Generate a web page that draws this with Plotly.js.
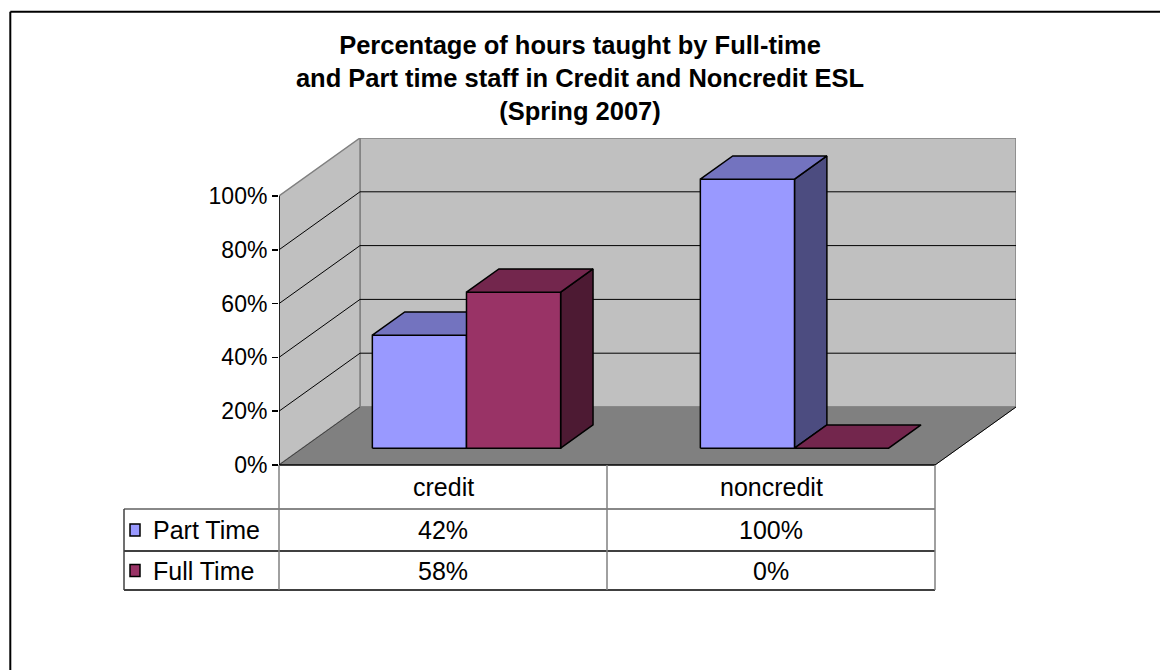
<!DOCTYPE html>
<html>
<head>
<meta charset="utf-8">
<script src="https://cdn.plot.ly/plotly-3.0.1.min.js"></script>
<style>html,body{margin:0;padding:0;background:#fff;}#chart{width:1160px;height:670px;}</style>
</head>
<body>
<div id="chart"></div>
<script>
// ---- data ----
const categories = ["credit", "noncredit"];
const seriesNames = ["Part Time", "Full Time"];
const partTime = [0.42, 1.00];
const fullTime = [0.58, 0.00];
const yTickVals = [0, 0.2, 0.4, 0.6, 0.8, 1.0];
const yTickText = ["0%", "20%", "40%", "60%", "80%", "100%"];

// ---- styling ----
const frontColors = ["#9999FF", "#993366"];
const topColors = ["#7373BF", "#73264D"];
const sideColors = ["#4C4C80", "#4D1A33"];
const FONT = "Arial, 'Liberation Sans', sans-serif";

const W = 1160, H = 670;
const mL = 279, mR = 144, mT = 138, mB = 205;
const plotW = W - mL - mR, plotH = H - mT - mB;
const DX = 81 / 328;      // depth offset in x units
const DY = 58 / 269;      // depth offset in y units
const xMin = -0.5, xMax = categories.length - 0.5 + DX;
const yMax = 1 + DY;
const PX = px => (px - mL) / plotW;
const PY = py => (H - mB - py) / plotH;

const bw = 0.287;                  // bar width
const gl = (1 - 2 * bw) / 2;       // left gap
const zf = 0.29, zb = 0.69;        // depth of bar front/back

const traces = [];
const allSeries = [partTime, fullTime];

function poly(xs, ys, fill) {
  traces.push({
    type: "scatter", mode: "lines", x: xs.concat([xs[0]]), y: ys.concat([ys[0]]),
    fill: "toself", fillcolor: fill, line: {color: "#000", width: 1.5},
    hoverinfo: "skip", showlegend: false
  });
}

categories.forEach((c, i) => {
  allSeries.forEach((vals, s) => {
    const v = vals[i];
    const x0 = i - 0.5 + gl + s * bw, x1 = x0 + bw;
    const oxf = zf * DX, oyf = zf * DY, oxb = zb * DX, oyb = zb * DY;
    if (v > 0) {
      poly([x1 + oxf, x1 + oxb, x1 + oxb, x1 + oxf], [oyf, oyb, v + oyb, v + oyf], sideColors[s]);
      poly([x0 + oxf, x1 + oxf, x1 + oxf, x0 + oxf], [oyf, oyf, v + oyf, v + oyf], frontColors[s]);
    }
    poly([x0 + oxf, x1 + oxf, x1 + oxb, x0 + oxb], [v + oyf, v + oyf, v + oyb, v + oyb], topColors[s]);
  });
});

const shapes = [];
// back wall
shapes.push({type: "path", xref: "x", yref: "y", layer: "below",
  path: `M${xMin + DX},${DY} L${xMax},${DY} L${xMax},${1 + DY} L${xMin + DX},${1 + DY} Z`,
  fillcolor: "#C0C0C0", line: {color: "#808080", width: 1.5}});
// side wall
shapes.push({type: "path", xref: "x", yref: "y", layer: "below",
  path: `M${xMin},0 L${xMin + DX},${DY} L${xMin + DX},${1 + DY} L${xMin},1 Z`,
  fillcolor: "#C0C0C0", line: {color: "#808080", width: 1.5}});
// floor
const xFR = categories.length - 0.5;
shapes.push({type: "path", xref: "x", yref: "y", layer: "below",
  path: `M${xMin},0 L${xFR},0 L${xMax},${DY} L${xMin + DX},${DY} Z`,
  fillcolor: "#808080", line: {color: "#808080", width: 1}});
// gridlines
yTickVals.forEach(v => {
  if (v > 0 && v < 1) {
    shapes.push({type: "line", xref: "x", yref: "y", layer: "below",
      x0: xMin, y0: v, x1: xMin + DX, y1: v + DY, line: {color: "#000", width: 1}});
    shapes.push({type: "line", xref: "x", yref: "y", layer: "below",
      x0: xMin + DX, y0: v + DY, x1: xMax, y1: v + DY, line: {color: "#000", width: 1}});
  }
});
// floor edges
shapes.push({type: "line", xref: "x", yref: "y", layer: "below",
  x0: xMin, y0: 0, x1: xMin + DX, y1: DY, line: {color: "#404040", width: 1}});
shapes.push({type: "line", xref: "x", yref: "y", layer: "below",
  x0: xFR, y0: 0, x1: xMax, y1: DY, line: {color: "#000", width: 1}});
// front axis line
shapes.push({type: "line", xref: "x", yref: "y", layer: "below",
  x0: xMin, y0: 0, x1: xMin, y1: 1, line: {color: "#000", width: 1.5}});

// ---- data table ----
const rowTop = 465, rowH1 = 509, rowH2 = 551, rowBot = 590, labelLeft = 124;
const tableRight = 279 + 328 * categories.length;
const hline = (x0, x1, py, col) => shapes.push({type: "line", xref: "paper", yref: "paper",
  x0: x0, x1: x1, y0: PY(py), y1: PY(py), line: {color: col, width: 1.5}});
const vline = (px, p0, p1, col) => shapes.push({type: "line", xref: "paper", yref: "paper",
  x0: PX(px), x1: PX(px), y0: PY(p0), y1: PY(p1), line: {color: col, width: 1.5}});
hline(0, PX(tableRight), rowTop, "#000");
hline(PX(labelLeft), PX(tableRight), rowH1, "#606060");
hline(PX(labelLeft), PX(tableRight), rowH2, "#000");
hline(PX(labelLeft), PX(tableRight), rowBot, "#000");
vline(labelLeft, rowH1, rowBot, "#404040");
for (let k = 0; k <= categories.length; k++) vline(279 + 328 * k, rowTop, rowBot, "#808080");

const TSIZE = 25;
const annotations = [];
const rowMid = [(rowH1 + rowH2) / 2, (rowH2 + rowBot) / 2];
categories.forEach((c, i) => {
  annotations.push({xref: "x", yref: "paper", x: i, y: PY((rowTop + rowH1) / 2),
    text: c, showarrow: false, font: {family: FONT, size: TSIZE, color: "#000"}, yanchor: "middle"});
});
allSeries.forEach((vals, s) => {
  shapes.push({type: "rect", xref: "paper", yref: "paper",
    x0: PX(130), x1: PX(140), y0: PY(rowMid[s] - 6), y1: PY(rowMid[s] + 6),
    fillcolor: frontColors[s], line: {color: "#000", width: 1.5}});
  annotations.push({xref: "paper", yref: "paper", x: PX(151), y: PY(rowMid[s]), xanchor: "left",
    text: seriesNames[s], showarrow: false, font: {family: FONT, size: TSIZE, color: "#000"}, yanchor: "middle"});
  vals.forEach((v, i) => {
    annotations.push({xref: "x", yref: "paper", x: i, y: PY(rowMid[s]),
      text: Math.round(v * 100) + "%", showarrow: false, font: {family: FONT, size: TSIZE, color: "#000"}, yanchor: "middle"});
  });
});

// outer frame
shapes.push({type: "line", xref: "paper", yref: "paper", x0: PX(10.3), x1: PX(1160), y0: PY(11.7), y1: PY(11.7), line: {color: "#000", width: 2}});
shapes.push({type: "line", xref: "paper", yref: "paper", x0: PX(10.3), x1: PX(10.3), y0: PY(11.7), y1: PY(670), line: {color: "#000", width: 2}});

const layout = {
  width: W, height: H,
  margin: {l: mL, r: mR, t: mT, b: mB, pad: 0},
  paper_bgcolor: "#fff", plot_bgcolor: "rgba(0,0,0,0)",
  showlegend: false,
  title: {text: "<b>Percentage of hours taught by Full-time<br>and Part time staff in Credit and Noncredit ESL<br>(Spring 2007)</b>",
    font: {family: FONT, size: 25.5, color: "#000"}, xref: "container", x: 0.5, xanchor: "center",
    yref: "container", y: 1 - 54 / H, yanchor: "top"},
  xaxis: {range: [xMin, xMax], showgrid: false, zeroline: false, showline: false,
    showticklabels: false, ticks: "", fixedrange: true},
  yaxis: {range: [0, yMax], tickvals: yTickVals, ticktext: yTickText, ticks: "outside",
    ticklen: 6, tickwidth: 1.5, tickcolor: "#000", showgrid: false, zeroline: false, showline: false,
    tickfont: {family: FONT, size: 23, color: "#000"}, fixedrange: true},
  shapes: shapes,
  annotations: annotations
};
Plotly.newPlot("chart", traces, layout, {staticPlot: true, displayModeBar: false});
</script>
</body>
</html>
